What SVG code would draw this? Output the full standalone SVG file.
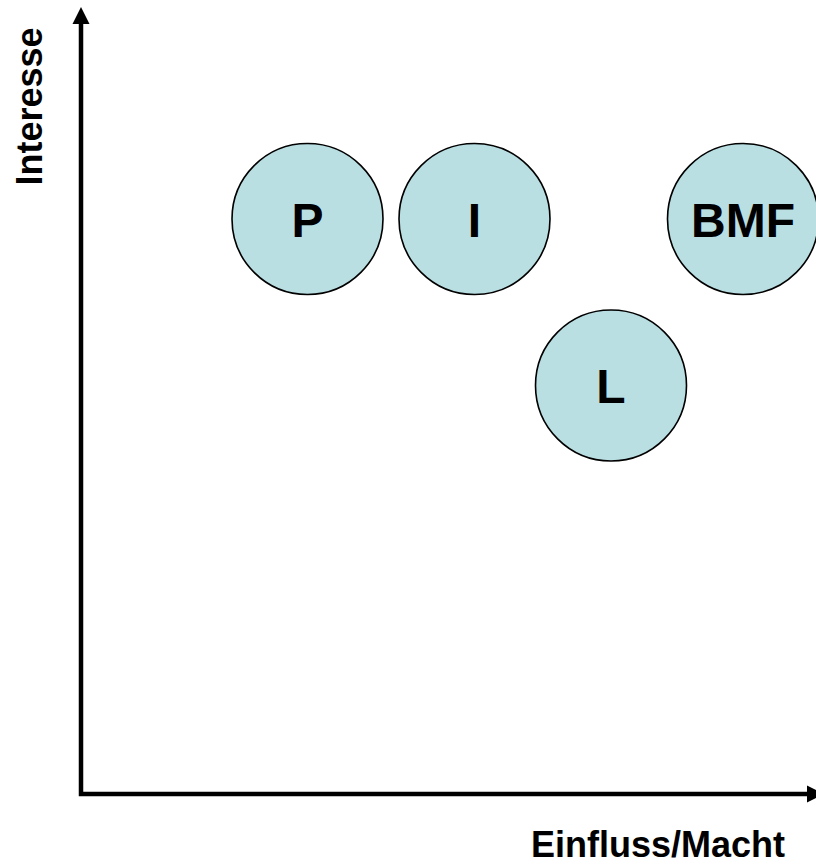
<svg xmlns="http://www.w3.org/2000/svg" width="816" height="866" viewBox="0 0 816 866">
<style>
.node{fill:#b9dfe3;stroke:#000;stroke-width:1.6}
.lbl{font-family:"Liberation Sans",Arial,sans-serif;font-weight:bold;font-size:48px;text-anchor:middle;fill:#000}
.ax{font-family:"Liberation Sans",Arial,sans-serif;font-weight:bold;font-size:36px;fill:#000}
.axis{stroke:#000;stroke-width:4.5;fill:none}
</style>
<rect width="816" height="866" fill="#fff"/>
<g id="axes">
<path class="axis" d="M81,22 V794 H810"/>
<polygon points="81,7 72.5,24 89.5,24" fill="#000"/>
<polygon points="824,794 807,785.5 807,802.5" fill="#000"/>
</g>
<text class="ax" transform="translate(42,106.5) rotate(-90)" text-anchor="middle">Interesse</text>
<text class="ax" x="658" y="857" text-anchor="middle">Einfluss/Macht</text>
<g id="P"><circle class="node" cx="307.5" cy="219" r="75.5"/><text class="lbl" x="307.5" y="237">P</text></g>
<g id="I"><circle class="node" cx="474.5" cy="219" r="75.5"/><text class="lbl" x="474.5" y="237">I</text></g>
<g id="BMF"><circle class="node" cx="743" cy="219" r="75.5"/><text class="lbl" x="743" y="237">BMF</text></g>
<g id="L"><circle class="node" cx="611" cy="385.5" r="75.5"/><text class="lbl" x="611" y="403">L</text></g>
</svg>
